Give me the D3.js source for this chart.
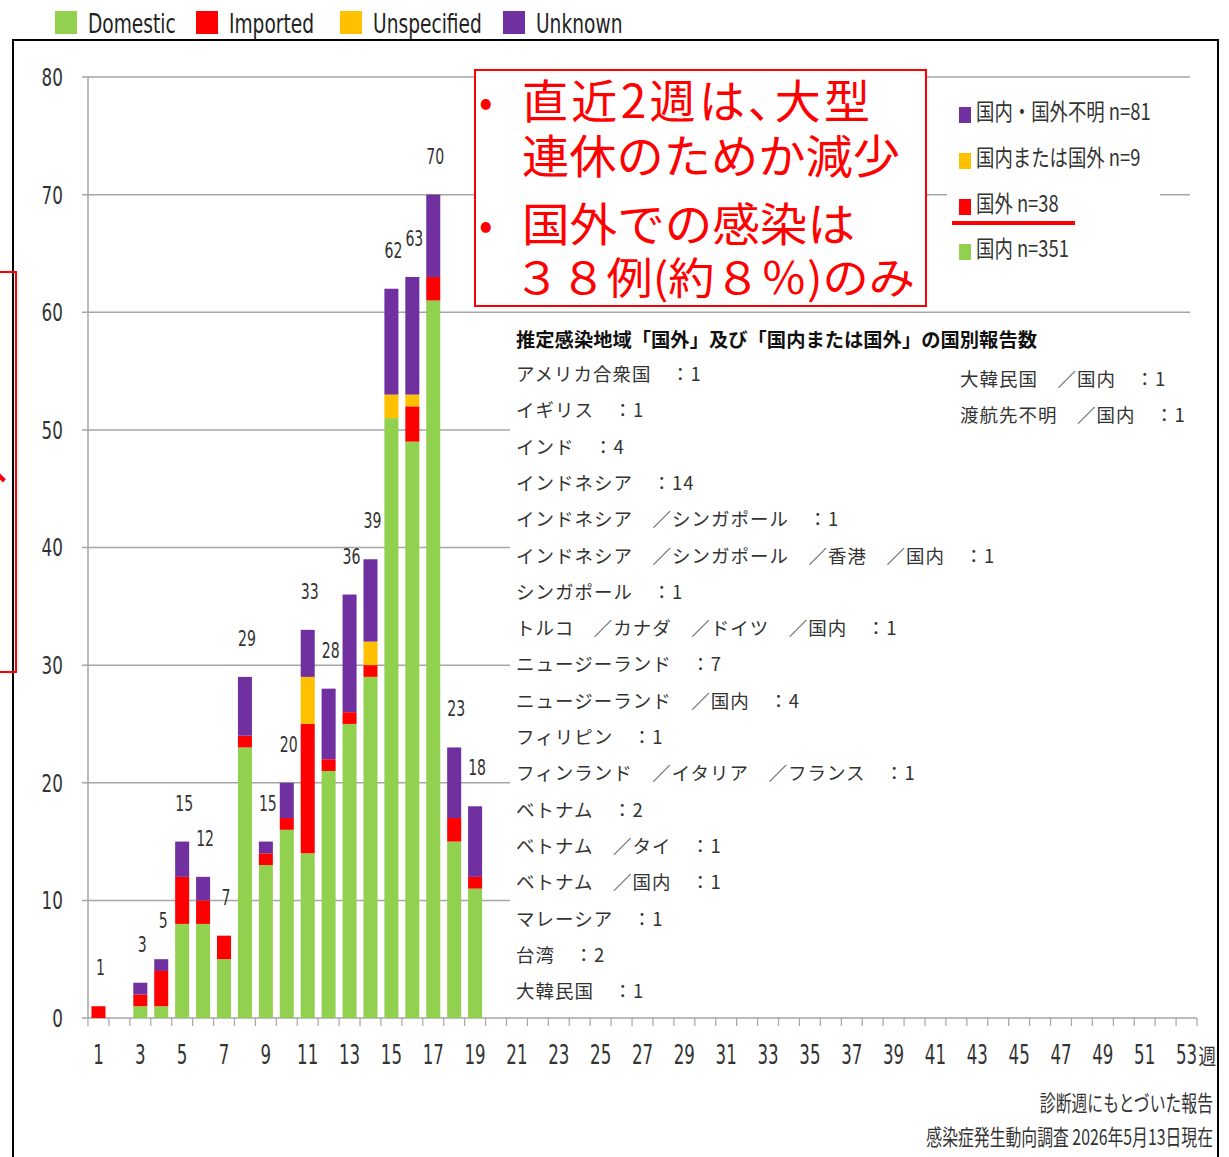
<!DOCTYPE html>
<html><head><meta charset="utf-8">
<script src="https://cdn.jsdelivr.net/npm/d3@7"></script>
<style>body{margin:0;background:#fff}svg{display:block}</style>
</head><body><svg id="c" width="1229" height="1157"></svg>
<script>
// ---------- data ----------
const allWeeks = d3.range(1, 54);
const dataWeeks = d3.range(1, 20);
const domestic    = [0,0,1,1,8,8,5,23,13,16,14,21,25,29,51,49,61,15,11];
const imported    = [1,0,1,3,4,2,2,1,1,1,11,1,1,1,0,3,2,2,1];
const unspecified = [0,0,0,0,0,0,0,0,0,0,4,0,0,2,2,1,0,0,0];
const unknown     = [0,0,1,1,3,2,0,5,1,3,4,6,10,7,9,10,7,6,6];
const seriesKeys   = ["Domestic","Imported","Unspecified","Unknown"];
const seriesColors = ["#92d050","#ff0000","#ffc000","#7030a0"];
const yTickValues = [0,10,20,30,40,50,60,70,80];
const xTickWeeks = allWeeks.filter(w => w % 2 === 1);
const weekUnit = "週";
const rightLegendLabels = ["国内・国外不明 n=81","国内または国外 n=9","国外 n=38","国内 n=351"];
const rightLegendColors = ["#7030a0","#ffc000","#ff0000","#92d050"];
const calloutLines = ["直近2週は、大型","連休のためか減少","国外での感染は","３８例(約８％)のみ"];
const listTitle = "推定感染地域「国外」及び「国内または国外」の国別報告数";
const countryList = [
  "アメリカ合衆国　：1","イギリス　：1","インド　：4","インドネシア　：14",
  "インドネシア　／シンガポール　：1","インドネシア　／シンガポール　／香港　／国内　：1",
  "シンガポール　：1","トルコ　／カナダ　／ドイツ　／国内　：1","ニュージーランド　：7",
  "ニュージーランド　／国内　：4","フィリピン　：1","フィンランド　／イタリア　／フランス　：1",
  "ベトナム　：2","ベトナム　／タイ　：1","ベトナム　／国内　：1","マレーシア　：1",
  "台湾　：2","大韓民国　：1"];
const countryList2 = ["大韓民国　／国内　：1","渡航先不明　／国内　：1"];
const notes = ["診断週にもとづいた報告","感染症発生動向調査 2026年5月13日現在"];

// ---------- setup ----------
const svg = d3.select("#c");
const LAT = "'DejaVu Sans', 'Liberation Sans', sans-serif";
const CJK = "'Noto Sans CJK JP', 'Noto Sans', sans-serif";
// horizontal condensing around each text's own anchor x
function condense(sel, f) {
  sel.each(function() {
    const ax = +d3.select(this).attr("x");
    d3.select(this).attr("transform", `translate(${ax},0) scale(${f},1) translate(${-ax},0)`);
  });
}

svg.append("rect").attr("width",1229).attr("height",1157).attr("fill","#fff");

const x = d3.scaleBand().domain(allWeeks).range([88, 1197]).paddingInner(0.33).paddingOuter(0.165);
const y = d3.scaleLinear().domain([0, 80]).range([1018, 77]);
const step = x.step();

// frame
svg.append("rect").attr("x",13).attr("y",40).attr("width",1205).attr("height",1160)
  .attr("fill","none").attr("stroke","#000").attr("stroke-width",2);
// fragment of neighbouring callout on the left
svg.append("rect").attr("x",-100).attr("y",272).attr("width",116).attr("height",400)
  .attr("fill","none").attr("stroke","#ff0000").attr("stroke-width",2);
svg.append("text").attr("x",-36).attr("y",484).attr("font-family",CJK).attr("font-size",44)
  .attr("fill","#ff0000").text("へ");

// gridlines
svg.append("g").selectAll("line").data(yTickValues.filter(v => v > 0)).join("line")
  .attr("x1",82).attr("x2",1190).attr("y1",d => y(d)).attr("y2",d => y(d))
  .attr("stroke","#a6a6a6").attr("stroke-width",1.5);
// y axis line + baseline + ticks
svg.append("line").attr("x1",88).attr("x2",88).attr("y1",y(80)).attr("y2",y(0))
  .attr("stroke","#a6a6a6").attr("stroke-width",1.5);
svg.append("line").attr("x1",82).attr("x2",1197).attr("y1",y(0)).attr("y2",y(0))
  .attr("stroke","#a6a6a6").attr("stroke-width",1.5);
svg.append("g").selectAll("line").data(d3.range(0, 54)).join("line")
  .attr("x1",d => 88 + d*step).attr("x2",d => 88 + d*step)
  .attr("y1",y(0)).attr("y2",y(0)+8).attr("stroke","#a6a6a6").attr("stroke-width",1.2);

// y tick labels
const yl = svg.append("g").selectAll("text").data(yTickValues).join("text")
  .attr("x",63).attr("y",d => y(d)+9).attr("text-anchor","end")
  .attr("font-family",LAT).attr("font-size",24).attr("fill","#333").text(d => d);
condense(yl, 0.7);

// x tick labels
const xl = svg.append("g").selectAll("text").data(xTickWeeks).join("text")
  .attr("x",d => x(d) + x.bandwidth()/2).attr("y",1064).attr("text-anchor","middle")
  .attr("font-family",LAT).attr("font-size",26).attr("fill","#333").text(d => d);
condense(xl, 0.64);
const wu = svg.append("text").attr("x", x(53) + x.bandwidth()/2 + 12).attr("y",1064)
  .attr("font-family",CJK).attr("font-size",22).attr("fill","#333").text(weekUnit);
condense(wu, 0.8);

// stacked bars
const rows = dataWeeks.map((w,i) => ({week:w, Domestic:domestic[i], Imported:imported[i],
  Unspecified:unspecified[i], Unknown:unknown[i]}));
const stacked = d3.stack().keys(seriesKeys)(rows);
svg.append("g").selectAll("g").data(stacked).join("g")
  .attr("fill",(d,i) => seriesColors[i])
  .selectAll("rect").data(d => d.filter(s => s[1] > s[0])).join("rect")
  .attr("x",d => x(d.data.week)).attr("width",x.bandwidth())
  .attr("y",d => y(d[1])).attr("height",d => y(d[0]) - y(d[1]));

// total labels
const totals = rows.map(r => ({week:r.week, total: seriesKeys.reduce((a,k) => a + r[k], 0)}))
  .filter(d => d.total > 0);
const tl = svg.append("g").selectAll("text").data(totals).join("text")
  .attr("x",d => x(d.week) + x.bandwidth()/2 + 2).attr("y",d => y(d.total) - 31)
  .attr("text-anchor","middle").attr("font-family",LAT).attr("font-size",22)
  .attr("fill","#333").text(d => d.total);
condense(tl, 0.64);

// top legend
const lg = svg.append("g");
const legX = [55, 196, 340, 503];
seriesKeys.forEach((k,i) => {
  lg.append("rect").attr("x",legX[i]).attr("y",11).attr("width",22).attr("height",23).attr("fill",seriesColors[i]);
  const t = lg.append("text").attr("x",legX[i]+33).attr("y",33).attr("font-family",LAT)
    .attr("font-size",27).attr("fill","#222").text(k);
  condense(t, 0.69);
});

// callout box
svg.append("rect").attr("x",475).attr("y",70).attr("width",451).attr("height",236)
  .attr("fill","#fff").attr("stroke","#ff0000").attr("stroke-width",2);
const cg = svg.append("g").attr("fill","#ff0000").attr("font-family",CJK);
const cBase = [118, 173, 241, 294];
const cX = [522, 522, 522, 514];
const cWidth = [348, 378, 333, 401];
calloutLines.forEach((t,i) => {
  const prop = (i === 0);
  cg.append("text").attr("x",cX[i]).attr("y",cBase[i]).attr("font-size",i===3?43:46)
    .style("font-feature-settings", prop ? "'palt'" : null)
    .attr("textLength",cWidth[i]).attr("lengthAdjust", prop ? "spacing" : "spacingAndGlyphs").text(t);
});
[0,2].forEach(i => cg.append("text").attr("x",479).attr("y",cBase[i]-2).attr("font-size",40).text("•"));

// right legend
svg.append("rect").attr("x",947).attr("y",86).attr("width",213).attr("height",200).attr("fill","#fff");
const rlBase = [120, 166, 212, 257];
rightLegendLabels.forEach((t,i) => {
  svg.append("rect").attr("x",959).attr("y",rlBase[i]-13).attr("width",12).attr("height",16)
    .attr("fill",rightLegendColors[i]);
  const tt = svg.append("text").attr("x",976).attr("y",rlBase[i]).attr("font-family",CJK)
    .attr("font-size",23).attr("fill","#333").text(t);
  condense(tt, 0.8);
});
svg.append("line").attr("x1",952).attr("x2",1075).attr("y1",223).attr("y2",223)
  .attr("stroke","#ff0000").attr("stroke-width",4);

// country list
svg.append("rect").attr("x",510).attr("y",322).attr("width",682).attr("height",690).attr("fill","#fff");
svg.append("text").attr("x",516).attr("y",347).attr("font-family",CJK).attr("font-size",19)
  .attr("font-weight","bold").attr("fill","#111").attr("textLength",521)
  .attr("lengthAdjust","spacingAndGlyphs").text(listTitle);
svg.append("g").selectAll("text").data(countryList).join("text")
  .attr("x",516).attr("y",(d,i) => 381 + i*36.3).attr("font-family",CJK).attr("font-size",18.5)
  .attr("letter-spacing",1).attr("fill","#333").text(d => d);
svg.append("g").selectAll("text").data(countryList2).join("text")
  .attr("x",960).attr("y",(d,i) => 386 + i*36).attr("font-family",CJK).attr("font-size",18.5)
  .attr("letter-spacing",1).attr("fill","#333").text(d => d);

// notes
const nt = svg.append("g").selectAll("text").data(notes).join("text")
  .attr("x",1213).attr("y",(d,i) => 1111 + i*34).attr("text-anchor","end")
  .attr("font-family",CJK).attr("font-size",22).attr("fill","#333").text(d => d);
condense(nt, 0.72);
</script></body></html>
